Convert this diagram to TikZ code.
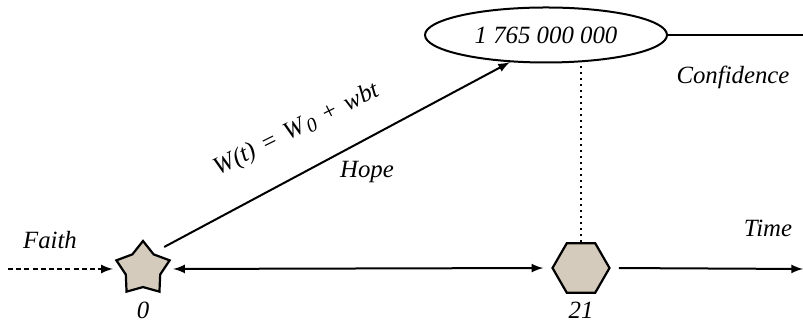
\documentclass[tikz,border=0pt]{standalone}
\usepackage{fontspec}
\setmainfont{Liberation Serif}
\usetikzlibrary{arrows}
\usetikzlibrary{shapes.geometric}
\definecolor{mytan}{RGB}{212,203,188}

\begin{document}
\begin{tikzpicture}[x=0.5pt,y=-0.5pt,font=\fontsize{12.4}{15}\selectfont\itshape]
\useasboundingbox (0,0) rectangle (803,324);

\coordinate (F) at (8,269);
\coordinate (T) at (803,269);
\coordinate (C) at (803,35);

\node[star,star points=5,star point ratio=1.55,minimum size=28pt,inner sep=0,draw,fill=mytan,line width=1.1] (S) at (143,269) {};
\node[regular polygon,regular polygon sides=6,minimum size=28.5pt,inner sep=0,draw,fill=mytan,line width=1.1] (H) at (581,268) {};
\node[ellipse,draw,minimum width=121pt,minimum height=27.5pt,inner sep=0,line width=1] (E) at (546,35) {1 765 000 000};

\draw[-latex,line width=1,dash pattern=on 2.5pt off 1.6pt] (F) -- (S.west) [shorten >=4pt];
\draw[latex-latex,line width=1,shorten <=4pt,shorten >=4pt] (S.east) -- (H.west);
\draw[-latex,line width=1,shorten <=4pt] (H.east) -- (T);
\draw[line width=1] (E.east) -- (C);
\draw[line width=1,dotted] (H.north) -- (H.north |- E.south);
\draw[-latex,line width=1,shorten <=6pt] (S.57) -- (E.217);

\node at (50,240) {Faith};
\node at (768,228) {Time};
\node at (733,77) {Confidence};
\node at (143,310) {0};
\node at (581,310) {21};
\node[rotate=26.5] at (297,130) {W(t)\hspace{0.35em}=\hspace{0.35em}W\kern1pt\raisebox{-0.25ex}{\fontsize{10}{12}\selectfont 0}\hspace{0.35em}+\hspace{0.35em}wbt};
\node at (367,172) {Hope};
\end{tikzpicture}
\end{document}
